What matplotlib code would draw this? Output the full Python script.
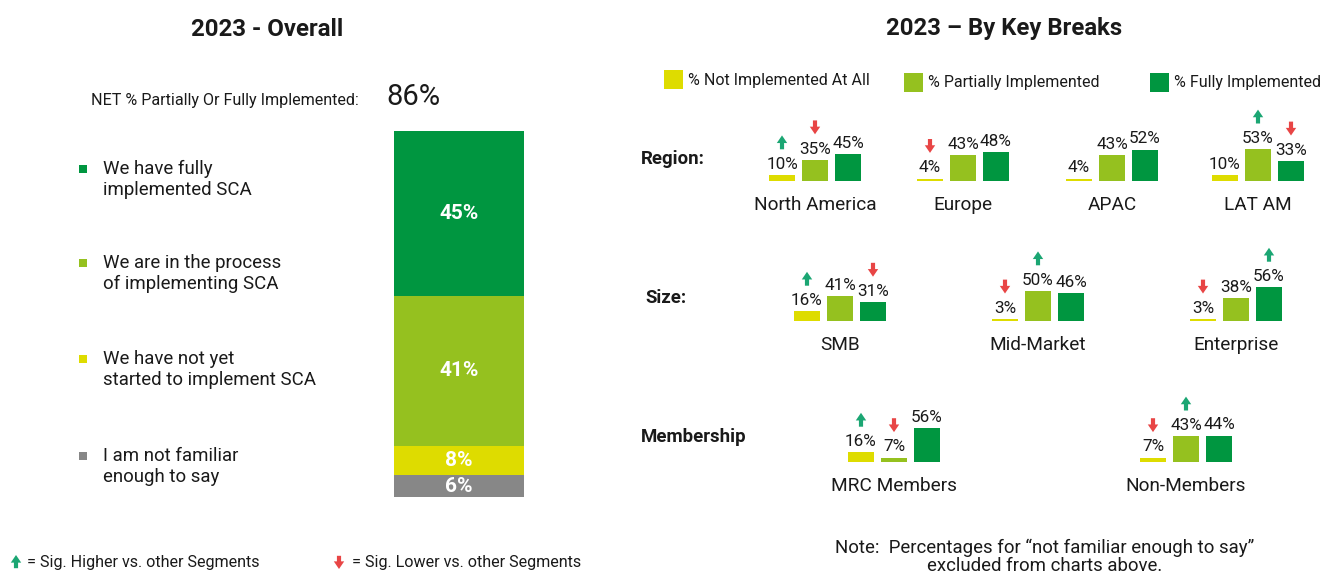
import numpy as np
import matplotlib
matplotlib.use("Agg")
import matplotlib.pyplot as plt
from matplotlib.patches import Rectangle
from matplotlib.transforms import offset_copy

plt.rcParams['font.family'] = ['Roboto', 'DejaVu Sans']

W, H = 1323, 578

# colours
C_NOT = '#DEDC00'
C_PART = '#95C11F'
C_FULL = '#009640'
C_GRAY = '#878787'
C_UP = '#1BA673'
C_DOWN = '#E84545'
TXT = '#1a1a1a'

# ---- overall (left) ----
overall_labels = ['I am not familiar\nenough to say',
                  'We have not yet\nstarted to implement SCA',
                  'We are in the process\nof implementing SCA',
                  'We have fully\nimplemented SCA']
overall_values = [6, 8, 41, 45]
overall_colors = [C_GRAY, C_NOT, C_PART, C_FULL]
net_value = 86

# ---- key breaks (right) ----
series_names = ['% Not Implemented At All', '% Partially Implemented', '% Fully Implemented']
series_colors = [C_NOT, C_PART, C_FULL]

region_groups = ['North America', 'Europe', 'APAC', 'LAT AM']
region_values = [[10, 35, 45], [4, 43, 48], [4, 43, 52], [10, 53, 33]]
region_sig = [[1, -1, 0], [-1, 0, 0], [0, 0, 0], [0, 1, -1]]

size_groups = ['SMB', 'Mid-Market', 'Enterprise']
size_values = [[16, 41, 31], [3, 50, 46], [3, 38, 56]]
size_sig = [[1, 0, -1], [-1, 1, 0], [-1, 0, 1]]

member_groups = ['MRC Members', 'Non-Members']
member_values = [[16, 7, 56], [7, 43, 44]]
member_sig = [[1, -1, 0], [-1, 1, 0]]

fig = plt.figure(figsize=(W / 100, H / 100), dpi=100)
bg = fig.add_axes([0, 0, 1, 1])
bg.set_xlim(0, W)
bg.set_ylim(H, 0)
bg.axis('off')


def fig_rect(x0, y0, x1, y1):
    # pixel box (top-left origin) -> figure fraction rect
    return [x0 / W, 1 - y1 / H, (x1 - x0) / W, (y1 - y0) / H]


def arrow(ax, xy, xycoords, direction, length_pt=10):
    # small fat arrow; xy is the tip, the tail sits length_pt away from it
    color = C_UP if direction > 0 else C_DOWN
    ax.annotate('', xy=xy, xycoords=xycoords,
                xytext=(0, -direction * length_pt), textcoords='offset points',
                arrowprops=dict(arrowstyle='simple,head_length=0.55,head_width=0.75,tail_width=0.3',
                                color=color, lw=0, shrinkA=0, shrinkB=0, mutation_scale=10),
                annotation_clip=False)


# titles
bg.text(267, 29, '2023 - Overall', ha='center', va='center', fontsize=17.3,
        fontweight='bold', color=TXT)
bg.text(1004, 29, '2023 \u2013 By Key Breaks', ha='center', va='center', fontsize=17.2,
        fontweight='bold', color=TXT)

# net line
bg.text(91, 100, 'NET % Partially Or Fully Implemented:', ha='left', va='center',
        fontsize=11.6, color=TXT)
bg.text(386, 97, f'{net_value}%', ha='left', va='center', fontsize=21, color=TXT)

# stacked bar
sax = fig.add_axes(fig_rect(394, 131, 524, 497))
bottom = 0
for v, c in zip(overall_values, overall_colors):
    sax.bar(0, v, bottom=bottom, width=1, color=c, linewidth=0)
    sax.text(0, bottom + v / 2, f'{v}%', ha='center', va='center', color='white',
             fontsize=15, fontweight='bold')
    bottom += v
sax.set_xlim(-0.5, 0.5)
sax.set_ylim(0, sum(overall_values))
sax.axis('off')

# left legend
leg_y = [456, 359, 263, 169]
for lab, c, y in zip(overall_labels, overall_colors, leg_y):
    bg.add_patch(Rectangle((79, y - 4), 8, 8, color=c, lw=0))
    bg.text(103, y - 9, lab, ha='left', va='top', fontsize=13.4, color=TXT,
            linespacing=1.22)

# right legend
leg_x = [664, 904, 1150]
leg_yy = [80, 83, 83]
for name, c, x, y in zip(series_names, series_colors, leg_x, leg_yy):
    bg.add_patch(Rectangle((x, y - 10), 19, 19, color=c, lw=0))
    bg.text(x + 24, y, name, ha='left', va='center', fontsize=11.5, color=TXT)

# row labels
bg.text(641, 159, 'Region:', ha='left', va='center', fontsize=13.4, fontweight='bold', color=TXT)
bg.text(645, 298, 'Size:', ha='left', va='center', fontsize=13.4, fontweight='bold', color=TXT)
bg.text(641, 437, 'Membership', ha='left', va='center', fontsize=13.4, fontweight='bold', color=TXT)


def group_chart(cx, base_y, name, values, sig):
    pitch = 33
    ax = fig.add_axes(fig_rect(cx - 1.5 * pitch, base_y - 60, cx + 1.5 * pitch, base_y))
    x = np.arange(3)
    ax.bar(x, values, width=0.79, color=series_colors, linewidth=0)
    ax.set_xlim(-0.5, 2.5)
    ax.set_ylim(0, 100)
    ax.axis('off')
    for i, (v, s) in enumerate(zip(values, sig)):
        ax.annotate(f'{v}%', xy=(i, v), xytext=(0, 2.5), textcoords='offset points',
                    ha='center', va='bottom', fontsize=12.3, color=TXT,
                    annotation_clip=False)
        if s > 0:
            tr = offset_copy(ax.transData, fig=fig, x=0, y=28.5, units='points')
            arrow(ax, (i, v), tr, 1)
        elif s < 0:
            tr = offset_copy(ax.transData, fig=fig, x=0, y=18.5, units='points')
            arrow(ax, (i, v), tr, -1)
    ax.annotate(name, xy=(1, 0), xytext=(0, -17), textcoords='offset points',
                ha='center', va='center', fontsize=13.7, color=TXT, annotation_clip=False)


for cx, name, vals, sg in zip([815, 963, 1112, 1258], region_groups, region_values, region_sig):
    group_chart(cx, 181, name, vals, sg)
for cx, name, vals, sg in zip([840, 1038, 1236], size_groups, size_values, size_sig):
    group_chart(cx, 321, name, vals, sg)
for cx, name, vals, sg in zip([894, 1186], member_groups, member_values, member_sig):
    group_chart(cx, 462, name, vals, sg)

# significance legend
arrow(bg, (16, 555), 'data', 1, length_pt=9.5)
bg.text(27, 562, '= Sig. Higher vs. other Segments', ha='left', va='center',
        fontsize=11.6, color=TXT)
arrow(bg, (339, 569), 'data', -1, length_pt=9.5)
bg.text(352, 562, '= Sig. Lower vs. other Segments', ha='left', va='center',
        fontsize=11.6, color=TXT)

# note
bg.text(1045, 548, 'Note:  Percentages for \u201cnot familiar enough to say\u201d',
        ha='center', va='center', fontsize=13.4, color=TXT)
bg.text(1045, 566, 'excluded from charts above.', ha='center', va='center',
        fontsize=13.4, color=TXT)

fig.savefig('out.png', dpi=100)
